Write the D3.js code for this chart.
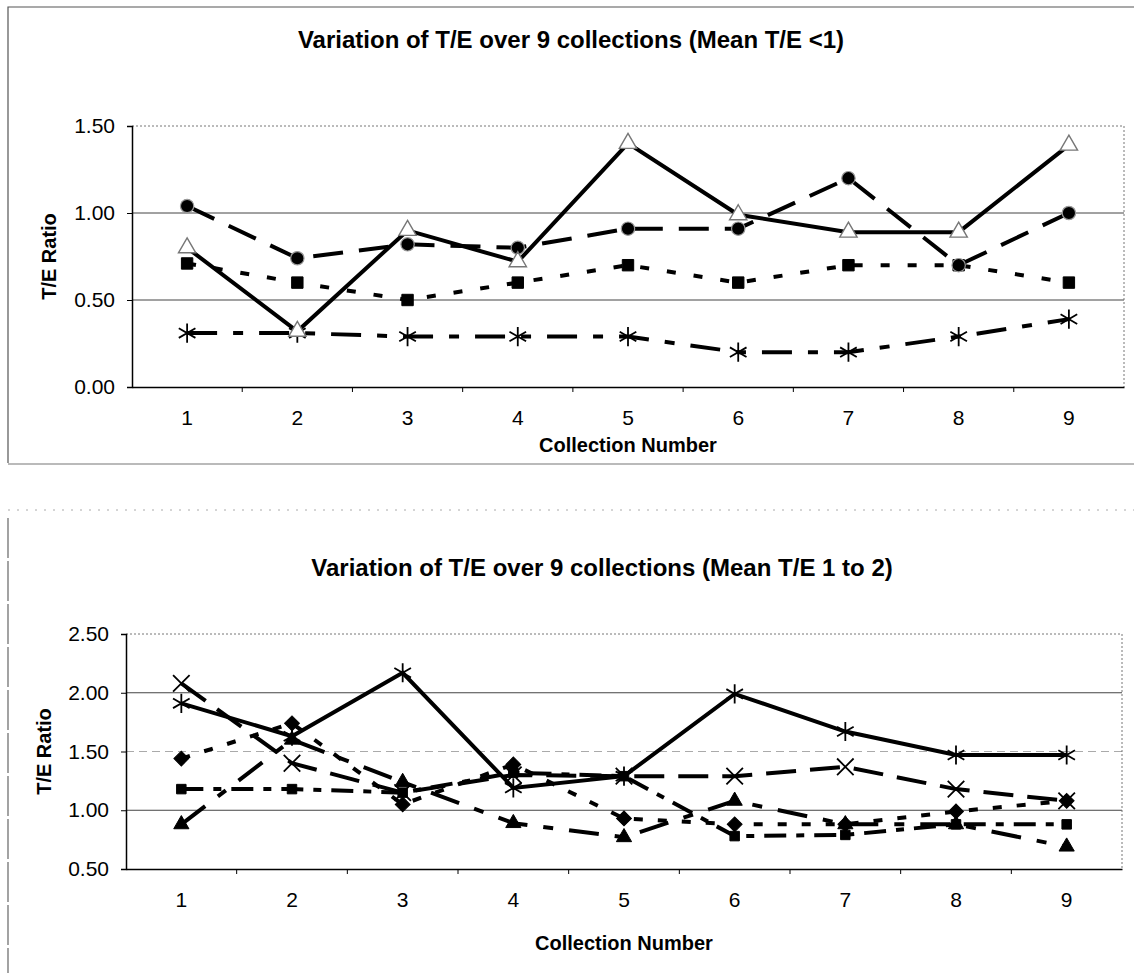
<!DOCTYPE html>
<html>
<head>
<meta charset="utf-8">
<script src="https://cdn.jsdelivr.net/npm/d3@7"></script>
<style>
  body { margin: 0; background: #fff; }
  svg text { font-family: "Liberation Sans", Arial, sans-serif; fill: #000; }
</style>
</head>
<body>
<div id="chart"></div>
<script>
// categories
const collections = [1, 2, 3, 4, 5, 6, 7, 8, 9];

// chart 1: mean T/E < 1
const topTicks = [0, 0.5, 1.0, 1.5];
const topTriangle = [0.80, 0.32, 0.90, 0.72, 1.40, 0.99, 0.89, 0.89, 1.39];
const topCircle   = [1.04, 0.74, 0.82, 0.80, 0.91, 0.91, 1.20, 0.70, 1.00];
const topSquare   = [0.71, 0.60, 0.50, 0.60, 0.70, 0.60, 0.70, 0.70, 0.60];
const topStar     = [0.31, 0.31, 0.29, 0.29, 0.29, 0.20, 0.20, 0.29, 0.39];

// chart 2: mean T/E 1 to 2
const bottomTicks = [0.5, 1.0, 1.5, 2.0, 2.5];
const bottomStar     = [1.91, 1.63, 2.17, 1.19, 1.29, 1.99, 1.67, 1.47, 1.47];
const bottomCross    = [2.08, 1.40, 1.15, 1.30, 1.29, 1.29, 1.37, 1.18, 1.08];
const bottomDiamond  = [1.44, 1.74, 1.05, 1.39, 0.93, 0.88, 0.88, 0.99, 1.08];
const bottomSquare   = [1.18, 1.18, 1.15, 1.32, 1.29, 0.78, 0.79, 0.88, 0.88];
const bottomTriangle = [0.88, 1.60, 1.24, 0.89, 0.77, 1.08, 0.88, 0.88, 0.69];

const svg = d3.select('#chart').append('svg')
  .attr('width', 1134)
  .attr('height', 973);

// frames of the two pasted charts
svg.append('path')
  .attr('d', 'M8,463 L8,7 L1134,7')
  .attr('fill', 'none').attr('stroke', '#555').attr('stroke-width', 1.2);
svg.append('line')
  .attr('x1', 8).attr('x2', 1134).attr('y1', 464).attr('y2', 464)
  .attr('stroke', '#777').attr('stroke-width', 1.2);
svg.append('line')
  .attr('x1', 8).attr('x2', 1134).attr('y1', 510).attr('y2', 510)
  .attr('stroke', '#aaa').attr('stroke-dasharray', '2,7');
svg.append('line')
  .attr('x1', 8).attr('x2', 8).attr('y1', 518).attr('y2', 973)
  .attr('stroke', '#666').attr('stroke-width', 1.2).attr('stroke-dasharray', '40,3');

function marker(type, size) {
  return d3.symbol().type(type).size(size)();
}

function drawChart(cfg) {
  const g = svg.append('g');
  const x = d3.scaleBand().domain(collections).range([cfg.left, cfg.right]);
  const y = d3.scaleLinear().domain(d3.extent(cfg.ticks)).range([cfg.bottom, cfg.top]);

  // title
  g.append('text')
    .attr('x', cfg.titleX).attr('y', cfg.titleY)
    .attr('text-anchor', 'middle')
    .style('font-size', '24px').style('font-weight', 'bold')
    .text(cfg.title);

  // gridlines
  g.selectAll('.grid')
    .data(cfg.ticks.slice(1, -1))
    .enter().append('line')
    .attr('x1', cfg.left).attr('x2', cfg.right)
    .attr('y1', d => y(d)).attr('y2', d => y(d))
    .attr('stroke', d => (cfg.faint || []).includes(d) ? '#aaa' : '#444')
    .attr('stroke-dasharray', d => (cfg.faint || []).includes(d) ? '8,5' : null)
    .attr('stroke-width', 1);

  // plot border top / right (dotted)
  g.append('path')
    .attr('d', `M${cfg.left},${cfg.top} L${cfg.right},${cfg.top} L${cfg.right},${cfg.bottom}`)
    .attr('fill', 'none').attr('stroke', '#777').attr('stroke-dasharray', '2,2');

  // y axis
  const yAxis = g.append('g')
    .attr('transform', `translate(${cfg.left},0)`)
    .call(d3.axisLeft(y).tickValues(cfg.ticks).tickFormat(d3.format('.2f')).tickSize(5).tickPadding(12));
  yAxis.select('.domain').attr('stroke', '#000').attr('stroke-width', 1.5);
  yAxis.selectAll('text').style('font-size', '21px').attr('fill', '#000');

  // x axis: labels centred, ticks between categories
  const xAxis = g.append('g')
    .attr('transform', `translate(0,${cfg.bottom})`)
    .call(d3.axisBottom(x).tickSize(0).tickPadding(23));
  xAxis.select('.domain').attr('stroke', '#000').attr('stroke-width', 1.5);
  xAxis.selectAll('text').style('font-size', '21px').attr('fill', '#000');
  g.selectAll('.xtick')
    .data(collections.slice(1))
    .enter().append('line')
    .attr('x1', d => x(d)).attr('x2', d => x(d))
    .attr('y1', cfg.bottom).attr('y2', cfg.bottom + 5)
    .attr('stroke', '#000');

  // axis titles
  g.append('text')
    .attr('transform', `translate(${cfg.yTitleX},${(cfg.top + cfg.bottom) / 2}) rotate(-90)`)
    .attr('text-anchor', 'middle').attr('dy', '0.35em')
    .style('font-size', '20px').style('font-weight', 'bold')
    .text('T/E Ratio');
  g.append('text')
    .attr('x', (cfg.left + cfg.right) / 2).attr('y', cfg.xTitleY)
    .attr('text-anchor', 'middle')
    .style('font-size', '20px').style('font-weight', 'bold')
    .text('Collection Number');

  const cx = d => x(d) + x.bandwidth() / 2;

  // lines
  cfg.series.forEach(s => {
    const line = d3.line()
      .x((v, i) => cx(collections[i]))
      .y(v => y(v));
    g.append('path')
      .datum(s.values)
      .attr('d', line)
      .attr('fill', 'none')
      .attr('stroke', '#000')
      .attr('stroke-width', 4)
      .attr('stroke-dasharray', s.dash);
  });

  // markers on top
  cfg.series.forEach(s => {
    g.selectAll(null)
      .data(s.values)
      .enter().append('path')
      .attr('d', marker(s.symbol, s.size))
      .attr('transform', (v, i) => `translate(${cx(collections[i])},${y(v)}) rotate(${s.rotate || 0})`)
      .attr('fill', s.fill)
      .attr('stroke', s.stroke)
      .attr('stroke-width', s.strokeWidth);
  });
}

drawChart({
  title: 'Variation of T/E over 9 collections (Mean T/E <1)',
  titleX: 571, titleY: 48,
  left: 132, right: 1124, top: 126, bottom: 387,
  ticks: topTicks,
  yTitleX: 49, xTitleY: 452,
  series: [
    { values: topStar, symbol: d3.symbolAsterisk, size: 260, fill: 'none', stroke: '#000', strokeWidth: 1.8, dash: '30,16,10,16' },
    { values: topSquare, symbol: d3.symbolSquare, size: 130, fill: '#000', stroke: '#000', strokeWidth: 1, dash: '9,18' },
    { values: topCircle, symbol: d3.symbolCircle, size: 140, fill: '#000', stroke: '#999', strokeWidth: 1.2, dash: '30,16' },
    { values: topTriangle, symbol: d3.symbolTriangle, size: 130, fill: '#fff', stroke: '#777', strokeWidth: 1.4, dash: null }
  ]
});

drawChart({
  title: 'Variation of T/E over 9 collections (Mean T/E 1 to 2)',
  titleX: 602, titleY: 576,
  left: 126, right: 1122, top: 634, bottom: 869,
  ticks: bottomTicks,
  faint: [1.5],
  yTitleX: 44, xTitleY: 950,
  series: [
    { values: bottomTriangle, symbol: d3.symbolTriangle, size: 100, fill: '#000', stroke: '#000', strokeWidth: 1, dash: '30,16,10,16' },
    { values: bottomSquare, symbol: d3.symbolSquare, size: 90, fill: '#000', stroke: '#000', strokeWidth: 1, dash: '22,10,8,10' },
    { values: bottomDiamond, symbol: d3.symbolSquare, size: 110, rotate: 45, fill: '#000', stroke: '#000', strokeWidth: 1, dash: '9,15' },
    { values: bottomCross, symbol: d3.symbolTimes, size: 180, fill: 'none', stroke: '#000', strokeWidth: 1.8, dash: '30,14' },
    { values: bottomStar, symbol: d3.symbolAsterisk, size: 260, fill: 'none', stroke: '#000', strokeWidth: 1.8, dash: null }
  ]
});
</script>
</body>
</html>
